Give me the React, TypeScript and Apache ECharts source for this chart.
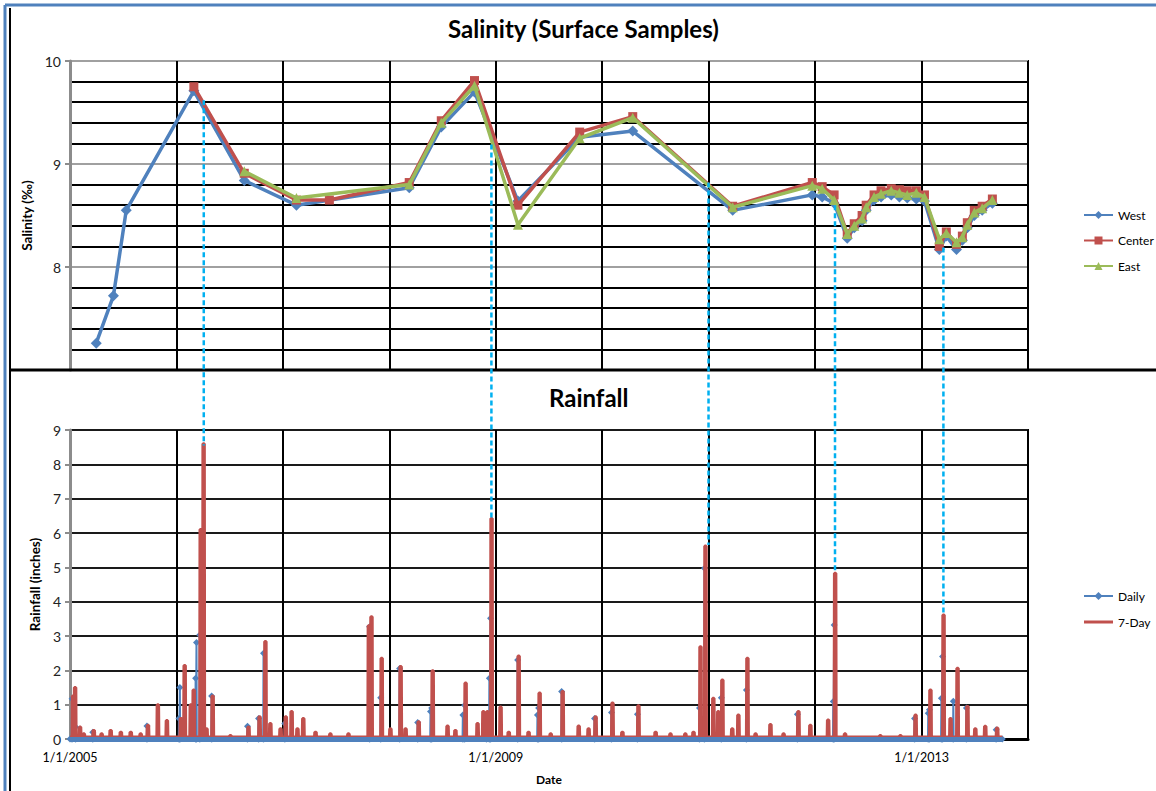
import React, { useEffect, useRef } from 'react';
import * as echarts from 'echarts';

// ---------- Salinity (surface samples) ----------
const salDates = ['2005-04-01','2005-05-30','2005-07-13','2006-03-02','2006-08-22','2007-02-17','2007-06-10','2008-03-10','2008-06-28','2008-10-20','2009-03-18','2009-10-16','2010-04-16','2011-03-25','2011-12-23','2012-01-26','2012-03-07','2012-04-21','2012-05-15','2012-06-11','2012-06-25','2012-07-22','2012-08-15','2012-09-19','2012-10-17','2012-11-13','2012-12-14','2013-01-11','2013-03-03','2013-03-27','2013-05-01','2013-05-21','2013-06-07','2013-07-01','2013-07-28','2013-09-01'];
const west = [7.26,7.72,8.55,9.71,8.84,8.60,null,8.77,9.36,9.70,8.64,9.26,9.32,8.55,8.70,8.68,8.62,8.28,8.38,8.45,8.55,8.65,8.68,8.70,8.68,8.67,8.66,8.64,8.17,8.30,8.17,8.26,8.38,8.50,8.55,8.62];
const center = [null,null,null,9.75,8.91,8.65,8.65,8.82,9.42,9.81,8.60,9.31,9.46,8.59,8.82,8.78,8.70,8.32,8.42,8.50,8.60,8.70,8.74,8.76,8.75,8.74,8.74,8.70,8.20,8.34,8.22,8.30,8.43,8.55,8.59,8.66];
const east = [null,null,null,null,8.93,8.67,null,8.80,9.40,9.76,8.41,9.25,9.45,8.58,8.79,8.76,8.65,8.32,8.40,8.47,8.58,8.68,8.71,8.74,8.72,8.70,8.72,8.68,8.27,8.33,8.24,8.29,8.41,8.53,8.57,8.65];

// ---------- Rainfall ----------
const rainStart = '2005-01-01';
const rainEnd = '2013-10-05';
const base7Day = 0.06;
const rain7Dates = ['2005-01-08','2005-01-15','2005-02-01','2005-02-14','2005-03-20','2005-04-16','2005-05-17','2005-06-21','2005-07-25','2005-08-28','2005-09-22','2005-10-26','2005-11-26','2006-01-13','2006-01-26','2006-02-16','2006-02-26','2006-03-22','2006-04-01','2006-04-11','2006-05-02','2006-07-02','2006-09-02','2006-10-10','2006-10-30','2006-11-16','2006-12-21','2007-01-08','2007-01-28','2007-02-17','2007-03-09','2007-04-20','2007-06-10','2007-08-11','2007-10-20','2007-10-29','2007-12-03','2008-01-02','2008-02-06','2008-02-23','2008-04-08','2008-05-26','2008-07-16','2008-08-12','2008-09-16','2008-10-27','2008-11-16','2008-11-30','2008-12-14','2009-01-14','2009-02-11','2009-03-17','2009-04-20','2009-05-28','2009-07-05','2009-08-15','2009-10-09','2009-11-12','2009-12-06','2010-02-02','2010-03-08','2010-05-02','2010-06-30','2010-08-20','2010-10-10','2010-11-07','2010-12-01','2010-12-18','2011-01-14','2011-01-31','2011-02-14','2011-03-20','2011-04-10','2011-05-11','2011-06-08','2011-07-29','2011-09-12','2011-11-02','2011-12-13','2012-02-12','2012-03-07','2012-04-10','2012-08-09','2012-10-17','2012-12-08','2013-01-28','2013-03-14','2013-04-07','2013-05-01','2013-06-04','2013-07-01','2013-08-04','2013-09-14'];
const rain7Values = [1.25,1.5,0.35,0.15,0.25,0.15,0.25,0.2,0.2,0.15,0.4,1.0,0.54,0.6,2.14,1.0,1.43,6.1,8.6,0.3,1.25,0.1,0.35,0.65,2.84,0.45,0.3,0.65,0.8,0.3,0.6,0.2,0.15,0.15,3.3,3.56,2.35,0.3,2.11,0.3,0.5,1.99,0.38,0.25,1.63,0.45,0.8,0.8,6.42,0.93,0.2,2.42,0.2,1.34,0.15,1.38,0.38,0.3,0.65,1.05,0.2,0.97,0.2,0.15,0.15,0.2,2.69,5.62,1.19,0.8,1.72,0.3,0.7,2.35,0.15,0.42,0.15,0.8,0.4,0.55,4.83,0.15,0.1,0.1,0.7,1.43,3.61,0.6,2.06,0.95,0.3,0.37,0.32];
const dailyDates = ['2005-01-08','2005-01-20','2005-03-20','2005-09-22','2006-01-10','2006-01-13','2006-03-08','2006-03-11','2006-03-22','2006-05-02','2006-09-02','2006-10-10','2006-10-27','2007-01-08','2007-10-26','2007-12-03','2008-02-06','2008-04-08','2008-05-22','2008-05-26','2008-09-10','2008-09-16','2008-11-30','2008-12-10','2008-12-14','2009-03-17','2009-05-24','2009-05-28','2009-08-15','2009-12-06','2010-02-02','2010-05-02','2010-12-01','2010-12-18','2011-02-14','2011-05-11','2011-11-02','2012-03-04','2012-03-07','2012-12-08','2013-01-24','2013-01-28','2013-03-10','2013-03-14','2013-04-20','2013-06-04','2013-09-14'];
const dailyValues = [1.17,0.35,0.2,0.38,0.6,1.5,1.77,2.81,3.03,1.25,0.37,0.6,2.5,0.45,3.27,1.2,2.05,0.48,0.8,0.9,0.7,0.98,0.48,1.77,3.52,2.3,0.7,0.9,1.38,0.6,0.77,0.72,0.9,4.97,1.2,1.43,0.72,1.09,3.32,0.6,0.75,0.85,1.19,2.4,1.1,0.9,0.27];

// ---------- Leader (dashed) annotations ----------
const leaderDates = ['2006-04-05','2008-12-17','2011-01-01','2012-03-10','2013-03-17'];
const leaderSalinity = [9.62, 9.19, 8.82, 8.60, 8.19];
const leaderRain = [8.55, 6.37, 5.65, 4.83, 3.61];

const DAY = 86400000;
const T0 = Date.UTC(2005, 0, 1);
const YEAR = 365.25 * DAY;
const toX = (d: string) => (Date.parse(d) - T0) / YEAR;
const dY = 1 / 365.25;

const FONT = 'Lato, "Open Sans", sans-serif';

export default function App() {
  const ref = useRef<HTMLDivElement>(null);
  useEffect(() => {
    if (!ref.current) return;
    const chart = echarts.init(ref.current, null, { renderer: 'svg' });

    const pts = (vals: (number | null)[]) =>
      salDates.map((d, i) => [toX(d), vals[i]]).filter((p) => p[1] !== null);

    const seven: number[][] = [[toX(rainStart), base7Day]];
    rain7Dates.forEach((d, i) => {
      const x = toX(d);
      seven.push([x, base7Day], [x + dY, rain7Values[i]], [x + 6 * dY, rain7Values[i]], [x + 7 * dY, base7Day]);
    });
    seven.push([toX(rainEnd), base7Day]);

    const daily: number[][] = [[toX(rainStart), 0]];
    dailyDates.forEach((d, i) => {
      const x = toX(d);
      daily.push([x - dY, 0], [x, dailyValues[i]], [x + dY, 0]);
    });
    daily.push([toX(rainEnd), 0]);

    const gridL = 70, gridW = 958;
    const yName = { fontFamily: FONT, fontWeight: 'bold', fontSize: 13.5, color: '#000' };
    const legendText = { fontFamily: FONT, fontSize: 12, color: '#000' };

    chart.setOption({
      animation: false,
      backgroundColor: '#fff',
      textStyle: { fontFamily: FONT },
      title: [
        { text: 'Salinity (Surface Samples)', left: 448, top: 16, padding: 0, textStyle: { fontFamily: FONT, fontSize: 24, fontWeight: 'bold', color: '#000' } },
        { text: 'Rainfall', left: 549, top: 385, padding: 0, textStyle: { fontFamily: FONT, fontSize: 24, fontWeight: 'bold', color: '#000' } },
      ],
      legend: [
        { data: ['West', 'Center', 'East'], orient: 'vertical', left: 1083, top: 209, padding: 0, itemWidth: 29, itemHeight: 10, itemGap: 13.5, textStyle: legendText },
        {
          data: ['Daily', { name: '7-Day', icon: 'path://M0,0H29V3H0Z' }],
          orient: 'vertical', left: 1083, top: 590, padding: 0, itemWidth: 29, itemHeight: 10, itemGap: 14, textStyle: legendText,
        },
      ],
      grid: [
        { left: gridL, top: 61, width: gridW, height: 309, show: true, borderColor: '#000', borderWidth: 2, backgroundColor: 'transparent' },
        { left: gridL, top: 430, width: gridW, height: 309, show: true, borderColor: '#000', borderWidth: 2, backgroundColor: 'transparent' },
      ],
      xAxis: [
        {
          type: 'value', gridIndex: 0, min: 0, max: 9, interval: 1,
          axisLine: { show: false }, axisTick: { show: false }, axisLabel: { show: false },
          splitLine: { show: true, lineStyle: { color: '#000', width: 2 } },
        },
        {
          type: 'value', gridIndex: 1, min: 0, max: 9, interval: 1,
          axisLine: { show: true, onZero: false, lineStyle: { color: '#000', width: 3 } },
          axisTick: { show: false },
          axisLabel: {
            margin: 12, fontSize: 12.5, color: '#000', fontFamily: FONT,
            formatter: (v: number) => (Math.round(v) % 4 === 0 ? `1/1/${2005 + Math.round(v)}` : ''),
          },
          splitLine: { show: true, lineStyle: { color: '#000', width: 2 } },
          name: 'Date', nameLocation: 'middle', nameGap: 34,
          nameTextStyle: { fontFamily: FONT, fontWeight: 'bold', fontSize: 12, color: '#000' },
        },
      ],
      yAxis: [
        {
          type: 'value', gridIndex: 0, min: 7, max: 10, interval: 1,
          axisLine: { show: true, lineStyle: { color: '#8c8c8c', width: 3 } },
          axisTick: { show: true, length: 5, lineStyle: { color: '#8c8c8c', width: 2 } },
          axisLabel: { showMinLabel: false, fontSize: 14, color: '#222', margin: 9, fontFamily: FONT },
          splitLine: { show: true, lineStyle: { color: '#a0a0a0', width: 2 } },
          minorTick: { show: false, splitNumber: 5 },
          minorSplitLine: { show: true, lineStyle: { color: '#000', width: 2 } },
          name: 'Salinity (‰)', nameLocation: 'middle', nameGap: 33, nameTextStyle: yName,
        },
        {
          type: 'value', gridIndex: 1, min: 0, max: 9, interval: 1,
          axisLine: { show: true, lineStyle: { color: '#8c8c8c', width: 3 } },
          axisTick: { show: true, length: 5, lineStyle: { color: '#8c8c8c', width: 2 } },
          axisLabel: { fontSize: 14, color: '#222', margin: 9, fontFamily: FONT },
          splitLine: { show: true, lineStyle: { color: '#1a1a1a', width: 2 } },
          name: 'Rainfall (inches)', nameLocation: 'middle', nameGap: 28, nameTextStyle: yName,
        },
      ],
      series: [
        {
          name: 'West', type: 'line', xAxisIndex: 0, yAxisIndex: 0, data: pts(west), z: 3,
          symbol: 'diamond', symbolSize: 11, showSymbol: true,
          lineStyle: { color: '#4F81BD', width: 3.5 }, itemStyle: { color: '#4F81BD' },
        },
        {
          name: 'Center', type: 'line', xAxisIndex: 0, yAxisIndex: 0, data: pts(center), z: 4,
          symbol: 'rect', symbolSize: 9, showSymbol: true,
          lineStyle: { color: '#C0504D', width: 3.5 }, itemStyle: { color: '#C0504D' },
        },
        {
          name: 'East', type: 'line', xAxisIndex: 0, yAxisIndex: 0, data: pts(east), z: 5,
          symbol: 'triangle', symbolSize: 10, showSymbol: true,
          lineStyle: { color: '#9BBB59', width: 3.5 }, itemStyle: { color: '#9BBB59' },
        },
        {
          name: 'Daily', type: 'line', xAxisIndex: 1, yAxisIndex: 1, data: daily, z: 3,
          symbol: 'diamond', symbolSize: 7, showSymbol: true,
          lineStyle: { color: '#4F81BD', width: 2 }, itemStyle: { color: '#4F81BD' },
          markLine: {
            silent: true, symbol: ['none', 'none'], label: { show: false },
            lineStyle: { color: '#4F81BD', width: 5, type: 'solid' },
            data: [[{ coord: [toX(rainStart), 0] }, { coord: [toX(rainEnd), 0] }]],
          },
        },
        {
          name: '7-Day', type: 'line', xAxisIndex: 1, yAxisIndex: 1, data: seven, z: 4,
          symbol: 'none', showSymbol: false,
          lineStyle: { color: '#C0504D', width: 3 }, itemStyle: { color: '#C0504D' },
        },
      ],
    });

    const graphics: any[] = [
      { type: 'line', shape: { x1: 5, y1: 5, x2: 1156, y2: 5 }, style: { stroke: '#4F81BD', lineWidth: 3 }, z: 50 },
      { type: 'line', shape: { x1: 5, y1: 5, x2: 5, y2: 791 }, style: { stroke: '#4F81BD', lineWidth: 3 }, z: 50 },
      { type: 'line', shape: { x1: 10, y1: 8, x2: 10, y2: 791 }, style: { stroke: '#000', lineWidth: 2 }, z: 50 },
      { type: 'line', shape: { x1: 10, y1: 370, x2: 1156, y2: 370 }, style: { stroke: '#000', lineWidth: 3 }, z: 50 },
    ];
    leaderDates.forEach((d, i) => {
      const p1 = chart.convertToPixel({ xAxisIndex: 0, yAxisIndex: 0 } as any, [toX(d), leaderSalinity[i]]) as number[];
      const p2 = chart.convertToPixel({ xAxisIndex: 1, yAxisIndex: 1 } as any, [toX(d), leaderRain[i]]) as number[];
      graphics.push({
        type: 'line', shape: { x1: p1[0], y1: p1[1], x2: p2[0], y2: p2[1] },
        style: { stroke: '#00B0F0', lineWidth: 2.5, lineDash: [5, 3] }, z: 60,
      });
    });
    chart.setOption({ graphic: graphics });

    return () => chart.dispose();
  }, []);
  return <div ref={ref} style={{ position: 'absolute', left: 0, top: 0, width: 1156, height: 791 }} />;
}
